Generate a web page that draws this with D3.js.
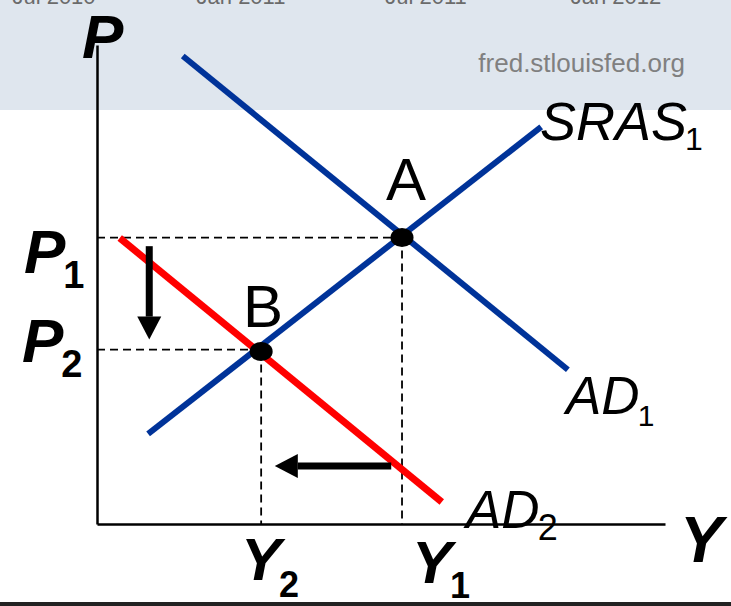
<!DOCTYPE html>
<html>
<head>
<meta charset="utf-8">
<script src="https://cdn.jsdelivr.net/npm/d3@7"></script>
<style>
  body { margin: 0; background: #fff; }
  svg { display: block; font-family: "Liberation Sans", Arial, sans-serif; }
</style>
</head>
<body>
<div id="chart"></div>
<script>
/* AD-AS diagram: aggregate demand shifts left, A -> B */

// curves, in chart units (0-100 on both axes)
const curveNames = ["SRAS", "AD1", "AD2"];
const sras = [[9.0, 18.8], [78.2, 82.9]];
const ad1 = [[15.1, 97.7], [82.9, 32.2]];
const ad2 = [[4.0, 59.7], [60.7, 4.6]];

// equilibrium points
const pointNames = ["A", "B"];
const pointX = [53.7, 28.9];
const pointY = [59.8, 36.0];

// price and output levels
const priceLevels = [59.8, 36.4];   // P1, P2
const outputLevels = [53.7, 28.9];  // Y1, Y2

// shift arrows [x1, y1, x2, y2]
const arrowDown = [9.2, 58.0, 9.2, 38.5];
const arrowLeft = [51.8, 12.1, 31.3, 12.1];

// fred header ticks
const topTicks = ["Jul 2010", "Jan 2011", "Jul 2011", "Jan 2012"];
const topTickX = [54, 241, 426, 616];

const width = 731, height = 606,
      margin = ({ top: 45, right: 66, bottom: 82, left: 97 });

let svg = d3.select("#chart")
    .append("svg")
    .attr("width", width)
    .attr("height", height);

// grey header band left over from the FRED screenshot
svg.append("rect")
    .attr("x", 0).attr("y", 0)
    .attr("width", width).attr("height", 110)
    .attr("fill", "#dfe6ee");

svg.selectAll(".toptick")
    .data(topTicks)
    .join("text")
    .attr("class", "toptick")
    .attr("x", (d, i) => topTickX[i])
    .attr("y", 4)
    .attr("text-anchor", "middle")
    .attr("font-size", 22)
    .attr("fill", "#6b6b6b")
    .text(d => d);

svg.append("text")
    .attr("x", 685)
    .attr("y", 72)
    .attr("text-anchor", "end")
    .attr("font-size", 26)
    .attr("fill", "#808080")
    .text("fred.stlouisfed.org");

svg.append("rect") // dark strip at the bottom
    .attr("x", 0).attr("y", 602)
    .attr("width", width).attr("height", 4)
    .attr("fill", "#222");

let x = d3.scaleLinear()
    .domain([0, 100])
    .range([margin.left, width - margin.right]);

let y = d3.scaleLinear()
    .domain([0, 100])
    .range([height - margin.bottom, margin.top]);

// axes, no ticks
svg.append("g")
    .attr("transform", `translate(0,${y(0)})`)
    .call(d3.axisBottom(x).ticks(0).tickSizeOuter(0))
    .call(g => g.select(".domain").attr("stroke", "#000").attr("stroke-width", 2.5));

svg.append("g")
    .attr("transform", `translate(${x(0)},0)`)
    .call(d3.axisLeft(y).ticks(0).tickSizeOuter(0))
    .call(g => g.select(".domain").attr("stroke", "#000").attr("stroke-width", 2.5));

// dashed guides
const dash = "8,5";
priceLevels.forEach((p, i) => {
    svg.append("line")
        .attr("x1", x(0)).attr("x2", x(outputLevels[i]))
        .attr("y1", y(p)).attr("y2", y(p))
        .attr("stroke", "#000").attr("stroke-width", 1.8)
        .attr("stroke-dasharray", dash);
    svg.append("line")
        .attr("x1", x(outputLevels[i])).attr("x2", x(outputLevels[i]))
        .attr("y1", y(pointY[i])).attr("y2", y(0))
        .attr("stroke", "#000").attr("stroke-width", 1.8)
        .attr("stroke-dasharray", dash);
});

// curves
let line = d3.line().x(d => x(d[0])).y(d => y(d[1]));
const curves = [sras, ad1, ad2];
const curveColors = ["#003399", "#003399", "#ff0000"];
const curveWidths = [6, 6, 7];

svg.selectAll(".curve")
    .data(curves)
    .join("path")
    .attr("class", "curve")
    .attr("d", line)
    .attr("fill", "none")
    .attr("stroke", (d, i) => curveColors[i])
    .attr("stroke-width", (d, i) => curveWidths[i]);

// equilibrium dots
svg.selectAll(".dot")
    .data(pointNames)
    .join("ellipse")
    .attr("class", "dot")
    .attr("cx", (d, i) => x(pointX[i]))
    .attr("cy", (d, i) => y(pointY[i]))
    .attr("rx", 11.5)
    .attr("ry", 9.5)
    .attr("fill", "#000");

// arrows: shaft + triangular head
function arrow(a) {
    const x1 = x(a[0]), y1 = y(a[1]), x2 = x(a[2]), y2 = y(a[3]);
    const ang = Math.atan2(y2 - y1, x2 - x1);
    const head = 23, half = 12;
    const bx = x2 - head * Math.cos(ang), by = y2 - head * Math.sin(ang);
    svg.append("line")
        .attr("x1", x1).attr("y1", y1).attr("x2", bx).attr("y2", by)
        .attr("stroke", "#000").attr("stroke-width", 7);
    const nx = -Math.sin(ang) * half, ny = Math.cos(ang) * half;
    svg.append("path")
        .attr("d", `M${x2},${y2}L${bx + nx},${by + ny}L${bx - nx},${by - ny}Z`)
        .attr("fill", "#000");
}
arrow(arrowDown);
arrow(arrowLeft);

// label with optional upright subscript
function label(main, sub, lx, ly, size, subSize, bold, italic, subDy) {
    let t = svg.append("text")
        .attr("x", lx).attr("y", ly)
        .attr("font-size", size)
        .attr("font-weight", bold ? "bold" : "normal")
        .attr("font-style", italic ? "italic" : "normal");
    t.append("tspan").text(main);
    if (sub) {
        t.append("tspan")
            .attr("dy", subDy)
            .attr("dx", -2)
            .attr("font-size", subSize)
            .attr("font-style", "normal")
            .text(sub);
    }
}

label("P", "", 82, 58, 62, 0, true, true, 0);
label("P", "1", 24, 273, 62, 38, true, true, 15);
label("P", "2", 22, 362, 62, 38, true, true, 15);
label("Y", "2", 241, 580, 60, 36, true, true, 17);
label("Y", "1", 412, 583, 60, 36, true, true, 15);
label("Y", "", 680, 562, 64, 0, true, true, 0);

label("A", "", 386, 200, 60, 0, false, false, 0);
label("B", "", 243, 327, 60, 0, false, false, 0);

label("SRAS", "1", 540, 140, 54, 32, false, true, 10);
label("AD", "1", 566, 414, 53, 30, false, true, 12);
label("AD", "2", 466, 528, 53, 36, false, true, 12);
</script>
</body>
</html>
